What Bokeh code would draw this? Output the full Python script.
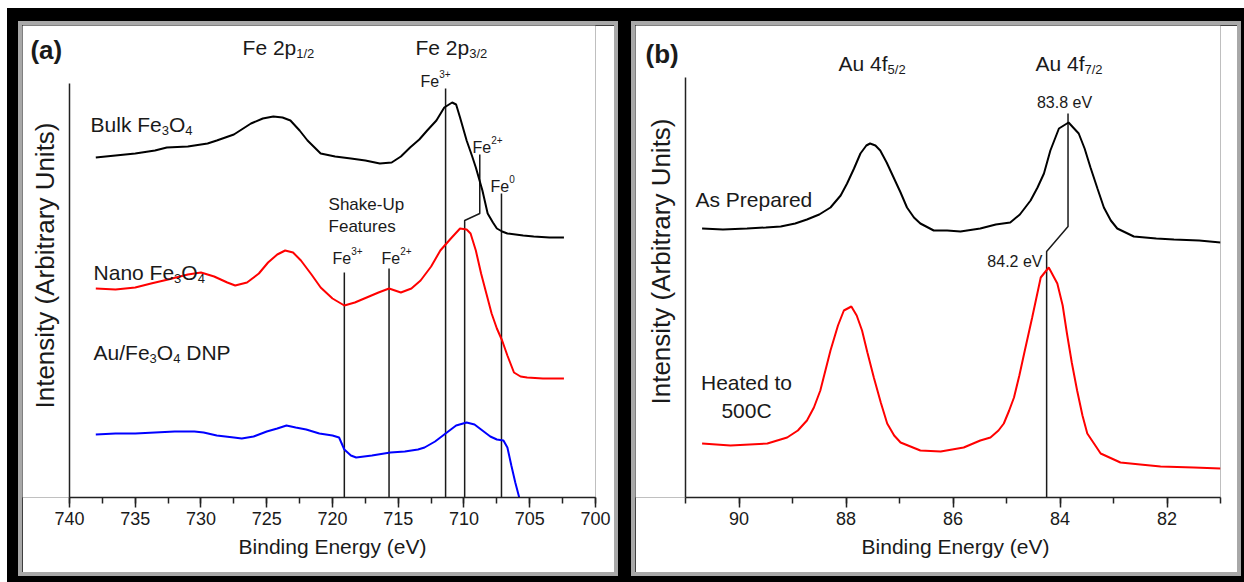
import math
from bokeh.plotting import figure
from bokeh.models import Range1d, Label, SingleIntervalTicker, Row, Column, Spacer, Title
from bokeh.embed import file_html
from bokeh.resources import INLINE

FONT = "Liberation Sans"
TXT = "#1a1a1a"

# ---------------- Panel (a): Fe 2p ----------------
bulk_energy = [738.0, 736.5, 735.0, 733.5, 732.6, 731.0, 729.5, 728.8, 727.5, 726.2, 725.3, 724.5,
               723.8, 723.2, 722.5, 721.9, 720.9, 719.8, 718.6, 717.5, 716.4, 715.5, 714.8, 714.1,
               713.4, 712.8, 712.1, 711.5, 710.9, 710.6, 710.3, 709.8, 709.4, 709.1, 708.6, 708.2,
               707.8, 707.5, 707.1, 706.7, 705.5, 704.7, 703.5, 702.4]
bulk_int = [340, 342, 344, 347, 350, 351, 354, 357, 363, 374, 379, 381,
            380, 377, 367, 357, 344, 341, 339, 337, 334, 335, 341, 350,
            358, 367, 377, 390, 395, 393, 380, 357, 342, 330, 307, 284,
            275, 269, 266, 264, 262, 261, 260, 260]

nano_energy = [738.0, 736.5, 735.0, 733.8, 732.5, 731.0, 730.0, 729.0, 728.0, 727.4, 726.5, 725.6,
               724.9, 724.2, 723.6, 723.0, 722.4, 721.6, 720.9, 720.0, 719.1, 718.3, 717.4, 716.5,
               715.7, 714.8, 714.0, 713.3, 712.5, 711.8, 711.0, 710.3, 709.8, 709.5, 709.1, 708.7,
               708.3, 707.9, 707.5, 707.1, 706.7, 706.2, 705.7, 705.2, 704.0, 702.4]
nano_int = [209, 208, 210, 214, 218, 223, 225, 221, 215, 212, 215, 224,
            235, 243, 247, 245, 237, 223, 210, 199, 192, 195, 200, 205,
            209, 205, 209, 217, 231, 247, 259, 269, 268, 264, 247, 224,
            204, 184, 169, 157, 142, 125, 121, 120, 119, 119]

dnp_energy = [738.0, 736.5, 735.0, 733.5, 732.0, 730.5, 729.8, 728.8, 727.5, 726.9, 726.0, 725.0,
              724.2, 723.5, 722.8, 722.0, 721.0, 720.0, 719.5, 719.1, 718.6, 718.2, 717.0, 715.6,
              714.5, 713.5, 713.0, 712.2, 711.4, 710.6, 709.8, 709.2, 708.6, 708.0, 707.5, 707.0,
              706.7, 706.4, 706.1, 705.8]
dnp_int = [63, 64, 64, 65, 66, 66, 65, 62, 60, 59, 61, 66,
           69, 72, 70, 68, 64, 62, 60, 48, 42, 40, 42, 45,
           46, 48, 50, 56, 64, 72, 75, 73, 67, 61, 58, 57,
           50, 32, 15, 0]

# marker lines (energy, intensity)
fe_lines_x = [[719.1, 719.1], [715.7, 715.7], [711.4, 711.4],
              [708.8, 708.8, 709.95, 709.95], [707.15, 707.15]]
fe_lines_y = [[0, 225], [0, 229], [0, 409],
              [343, 284, 277, 0], [0, 304]]

fe_xmin, fe_xmax = 700, 740
fe_axis_top = 414

# ---------------- Panel (b): Au 4f ----------------
asprep_energy = [90.69, 90.3, 89.85, 89.5, 89.22, 88.95, 88.73, 88.5, 88.29, 88.1, 87.98, 87.85,
                 87.73, 87.62, 87.55, 87.45, 87.36, 87.24, 87.11, 86.98, 86.86, 86.73, 86.61, 86.36,
                 86.11, 85.86, 85.49, 85.2, 84.93, 84.75, 84.55, 84.42, 84.30, 84.18, 84.02, 83.84,
                 83.65, 83.54, 83.43, 83.30, 83.18, 83.05, 82.93, 82.62, 82.2, 81.87, 81.4, 81.0]
asprep_int = [269, 268, 269, 270, 271, 274, 278, 283, 290, 302, 314, 329,
              344, 352, 354, 352, 347, 335, 320, 305, 290, 280, 274, 267,
              267, 266, 269, 273, 275, 283, 297, 310, 324, 347, 369, 375,
              364, 349, 330, 309, 290, 277, 269, 261, 259, 258, 257, 255]

heated_energy = [90.69, 90.16, 89.47, 89.10, 88.9, 88.73, 88.6, 88.48, 88.29, 88.15, 88.04, 87.90,
                 87.80, 87.70, 87.6, 87.48, 87.35, 87.23, 87.1, 86.98, 86.61, 86.23, 85.80, 85.49,
                 85.30, 85.15, 85.05, 84.95, 84.86, 84.76, 84.67, 84.52, 84.36, 84.21, 84.05, 83.95,
                 83.87, 83.78, 83.68, 83.58, 83.49, 83.24, 82.87, 82.5, 82.12, 81.5, 81.0]
heated_int = [54, 52, 54, 60, 67, 77, 90, 107, 147, 172, 187, 191,
              182, 167, 145, 120, 95, 74, 62, 55, 47, 46, 50, 57,
              60, 67, 74, 87, 100, 122, 144, 180, 220, 230, 214, 192,
              164, 135, 107, 82, 64, 44, 35, 33, 31, 30, 29]

au_line_x = [83.85, 83.85, 84.25, 84.25]
au_line_y = [384, 271, 246, 0]

au_xmin, au_xmax = 81, 91
au_axis_top = 420

# Arial / Liberation Sans advance widths (per 1000 em)
W = {" ": 278, "(": 333, ")": 333, "/": 278, "+": 584, "-": 333, ".": 278,
     "A": 667, "B": 667, "C": 722, "D": 722, "E": 667, "F": 611, "H": 722, "N": 722,
     "O": 778, "P": 667, "S": 667, "U": 722, "V": 667,
     "a": 556, "b": 556, "d": 556, "e": 556, "f": 278, "h": 556, "k": 500, "l": 222,
     "n": 556, "o": 556, "p": 556, "r": 333, "s": 500, "t": 278, "u": 556, "i": 222,
     "g": 556, "y": 500}


def tw(s, size):
    return sum(W.get(c, 556) for c in s) * size / 1000.0


def rich(p, x, y, segs, size, align="left", bold=False):
    small = round(size * 0.62)
    widths = [tw(t, size if k == "n" else small) for t, k in segs]
    total = sum(widths)
    off = 0 if align == "left" else (-total / 2 if align == "center" else -total)
    lift = 0.33 * size
    for (t, k), w in zip(segs, widths):
        fs = size if k == "n" else small
        dy = 0 if k == "n" else (-0.3 * size if k == "sub" else 0.48 * size)
        lead = len(t) - len(t.lstrip(" "))
        p.add_layout(Label(x=x, y=y + dy + lift, x_offset=off + tw(" " * lead, fs), text=t.strip(" "),
                           text_font=FONT, text_font_size=f"{fs}px", text_baseline="alphabetic",
                           text_align="left", text_color=TXT,
                           text_font_style="bold" if bold else "normal"))
        off += w


XTITLE = "Binding Energy (eV)"


def style(p, interval, bounds, axis_top, ylab_x, ylab_y, title_center_px):
    p.outline_line_color = None
    p.xgrid.visible = False
    p.ygrid.visible = False
    p.background_fill_color = "white"
    p.border_fill_color = "white"
    xa = p.xaxis[0]
    xa.bounds = bounds
    xa.ticker = SingleIntervalTicker(interval=interval, num_minor_ticks=2)
    xa.major_tick_out = 10
    xa.major_tick_in = 0
    xa.minor_tick_out = 6
    xa.minor_tick_in = 0
    xa.axis_line_width = 1.5
    xa.axis_line_color = "#222222"
    xa.major_tick_line_width = 1.5
    xa.minor_tick_line_width = 1.5
    xa.major_tick_line_color = "#222222"
    xa.minor_tick_line_color = "#222222"
    xa.major_label_text_font = FONT
    xa.major_label_text_font_size = "18px"
    xa.major_label_text_color = TXT
    xa.major_label_standoff = 4
    # x title centred under the bounded axis (frame starts at the left canvas edge)
    p.add_layout(Title(text=XTITLE, align="left", offset=title_center_px - tw(XTITLE, 21) / 2,
                       text_font=FONT, text_font_size="21px", text_font_style="normal",
                       text_color=TXT, standoff=10), "below")
    # left axis line (only over the data height) and its title
    p.segment(x0=[bounds[1]], y0=[0], x1=[bounds[1]], y1=[axis_top],
              line_color="#222222", line_width=1.5)
    p.add_layout(Label(x=ylab_x, y=ylab_y, text="Intensity (Arbitrary Units)", angle=math.pi / 2,
                       text_align="center", text_baseline="middle", text_font=FONT,
                       text_font_size="26px", text_color=TXT))


pa = figure(width=592, height=547, x_range=Range1d(743.574, 700), y_range=Range1d(0, 472),
            output_backend="svg", toolbar_location=None, y_axis_location=None,
            min_border_left=0, min_border_right=19, min_border_top=0, min_border_bottom=75)
style(pa, 5, (fe_xmin, fe_xmax), fe_axis_top, 741.825, 232, 310)
pa.multi_line(fe_lines_x, fe_lines_y, line_color="#1a1a1a", line_width=1.5)
pa.line(bulk_energy, bulk_int, line_color="black", line_width=2)
pa.line(nano_energy, nano_int, line_color="#ff0000", line_width=2)
pa.line(dnp_energy, dnp_int, line_color="#0000ff", line_width=2)

rich(pa, 742.97, 439, [("(a)", "n")], 26, bold=True)
rich(pa, 726.84, 443, [("Fe 2p", "n"), ("1/2", "sub")], 21)
rich(pa, 713.69, 443, [("Fe 2p", "n"), ("3/2", "sub")], 21)
rich(pa, 713.31, 411, [("Fe", "n"), ("3+", "sup")], 16)
rich(pa, 709.35, 345, [("Fe", "n"), ("2+", "sup")], 16)
rich(pa, 707.98, 306, [("Fe", "n"), ("0", "sup")], 16)
rich(pa, 720.30, 287, [("Shake-Up", "n")], 17)
rich(pa, 720.30, 265, [("Features", "n")], 17)
rich(pa, 720.00, 234, [("Fe", "n"), ("3+", "sup")], 16)
rich(pa, 716.27, 234, [("Fe", "n"), ("2+", "sup")], 16)
rich(pa, 738.40, 366, [("Bulk Fe", "n"), ("3", "sub"), ("O", "n"), ("4", "sub")], 21)
rich(pa, 738.17, 218, [("Nano Fe", "n"), ("3", "sub"), ("O", "n"), ("4", "sub")], 21)
rich(pa, 738.17, 138, [("Au/Fe", "n"), ("3", "sub"), ("O", "n"), ("4", "sub"), (" DNP", "n")], 21)

pb = figure(width=602, height=547, x_range=Range1d(91.9346, 81), y_range=Range1d(0, 472),
            output_backend="svg", toolbar_location=None, y_axis_location=None,
            min_border_left=0, min_border_right=17, min_border_top=0, min_border_bottom=75)
style(pb, 2, (au_xmin, au_xmax), au_axis_top, 91.467, 236, 320)
pb.line(au_line_x, au_line_y, line_color="#1a1a1a", line_width=1.5)
pb.line(asprep_energy, asprep_int, line_color="black", line_width=2)
pb.line(heated_energy, heated_int, line_color="#ff0000", line_width=2)

rich(pb, 91.748, 435, [("(b)", "n")], 26, bold=True)
rich(pb, 88.140, 427, [("Au 4f", "n"), ("5/2", "sub")], 21)
rich(pb, 84.458, 427, [("Au 4f", "n"), ("7/2", "sub")], 21)
rich(pb, 83.916, 390, [("83.8 eV", "n")], 16, align="center")
rich(pb, 84.327, 231, [("84.2 eV", "n")], 16, align="right")
rich(pb, 90.813, 291, [("As Prepared", "n")], 21)
rich(pb, 89.860, 108, [("Heated to", "n")], 21, align="center")
rich(pb, 89.860, 80, [("500C", "n")], 21, align="center")

GRAY = {"outline": "4px solid #a8a8a8"}
pa.styles = GRAY
pb.styles = GRAY

inner = Column(children=[
    Spacer(width=1237, height=17),
    Row(children=[Spacer(width=15, height=547), pa, Spacer(width=21, height=547), pb,
                  Spacer(width=7, height=547)]),
    Spacer(width=1237, height=10),
], styles={"background-color": "black"})

layout = Column(children=[
    Spacer(width=1244, height=8),
    Row(children=[Spacer(width=7, height=574), inner]),
])

open("out.html", "w").write(file_html(layout, INLINE))
